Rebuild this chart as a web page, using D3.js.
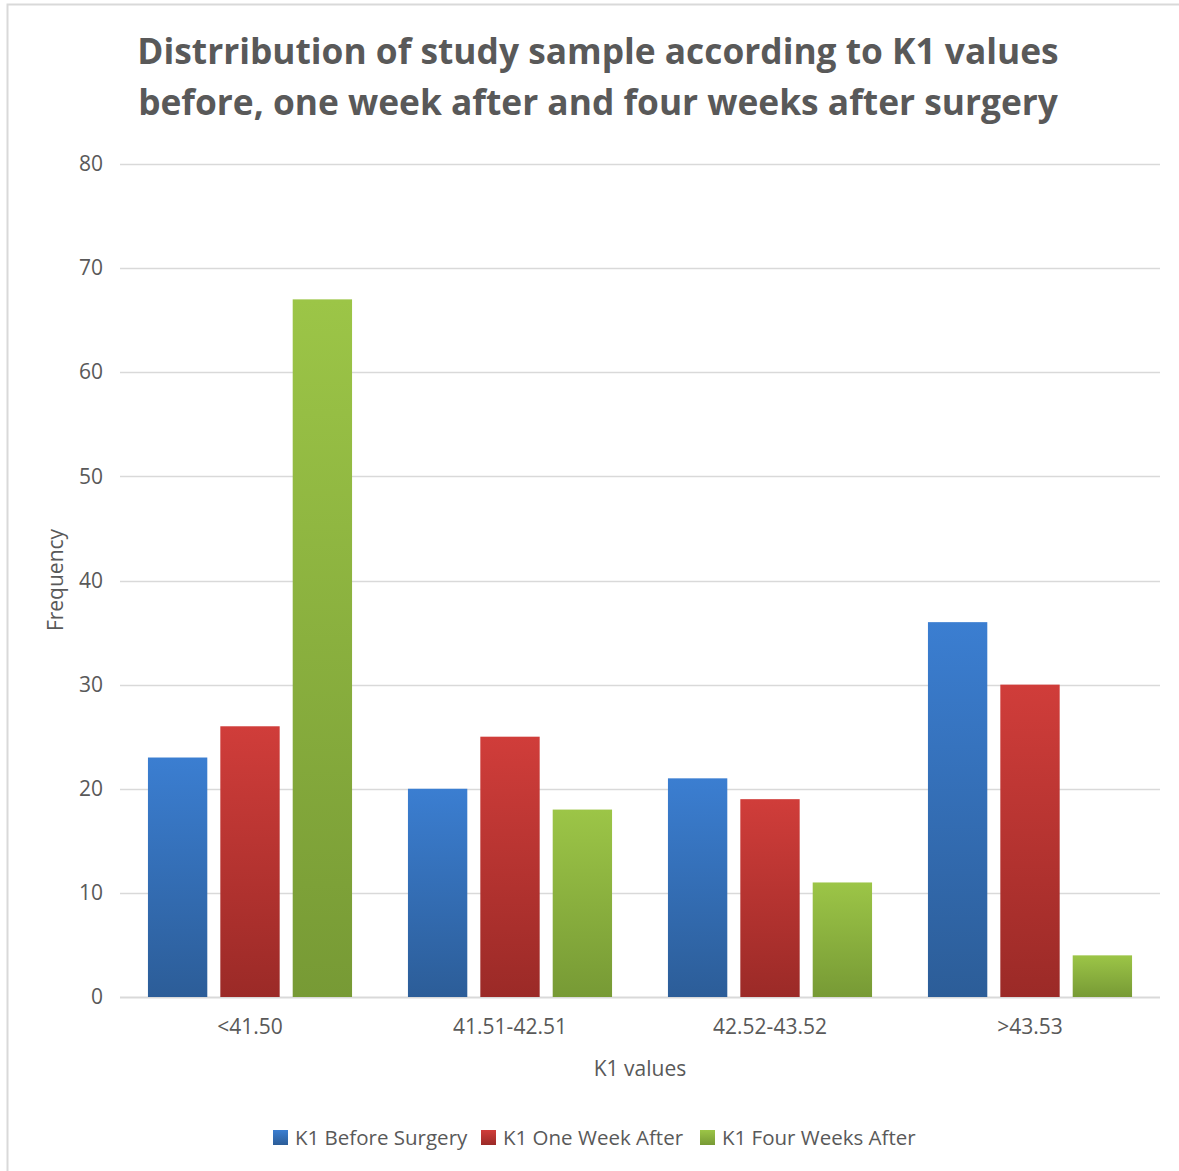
<!DOCTYPE html>
<html>
<head>
<meta charset="utf-8">
<script src="https://cdn.jsdelivr.net/npm/d3@7"></script>
<style>
  body { margin: 0; background: #fff; }
  text { font-family: "Open Sans", sans-serif; fill: #595959; }
</style>
</head>
<body>
<svg width="1179" height="1171"></svg>
<script>
const categories = ["<41.50", "41.51-42.51", "42.52-43.52", ">43.53"];
const seriesNames = ["K1 Before Surgery", "K1 One Week After", "K1 Four Weeks After"];
const beforeSurgery = [23, 20, 21, 36];
const oneWeekAfter = [26, 25, 19, 30];
const fourWeeksAfter = [67, 18, 11, 4];
const yTicks = [0, 10, 20, 30, 40, 50, 60, 70, 80];

const seriesValues = [beforeSurgery, oneWeekAfter, fourWeeksAfter];
const colors = [
    { top: "#3b7ed1", bottom: "#2c5d98" },
    { top: "#d03d3a", bottom: "#9b2a27" },
    { top: "#9cc547", bottom: "#779a35" }
];

const svg = d3.select("svg");
const margin = { top: 164, right: 19, bottom: 174, left: 120 };
const width = +svg.attr("width") - margin.left - margin.right;
const height = +svg.attr("height") - margin.top - margin.bottom;

// chart border (top and left only visible)
svg.append("path")
    .attr("d", "M7.5,1171 V4.5 H1179")
    .attr("fill", "none")
    .attr("stroke", "#d9d9d9")
    .attr("stroke-width", 2);

// gradients for bars
const defs = svg.append("defs");
colors.forEach(function (c, i) {
    const g = defs.append("linearGradient")
        .attr("id", "grad" + i)
        .attr("x1", 0).attr("y1", 0).attr("x2", 0).attr("y2", 1);
    g.append("stop").attr("offset", "0%").attr("stop-color", c.top);
    g.append("stop").attr("offset", "100%").attr("stop-color", c.bottom);
});

// title
svg.append("text")
    .attr("x", 598)
    .attr("text-anchor", "middle")
    .style("font-weight", "bold")
    .style("font-size", "35.3px")
    .style("fill", "#595959")
    .selectAll("tspan")
    .data(["Distrribution of study sample according to K1 values",
           "before, one week after and four weeks after surgery"])
    .enter().append("tspan")
    .attr("x", 598)
    .attr("y", function (d, i) { return 64 + i * 51; })
    .text(function (d) { return d; });

const chart = svg.append("g")
    .attr("transform", "translate(" + margin.left + "," + margin.top + ")");

const x0 = d3.scaleBand()
    .domain(categories)
    .range([0, width])
    .paddingInner(0.215)
    .paddingOuter(0.1075);

const x1 = d3.scaleBand()
    .domain(d3.range(seriesNames.length))
    .range([0, x0.bandwidth()])
    .padding(0.18)
    .paddingOuter(0);

const y = d3.scaleLinear()
    .domain([0, 80])
    .range([height, 0]);

// gridlines
chart.append("g")
    .selectAll("line")
    .data(yTicks)
    .enter().append("line")
    .attr("x1", 0)
    .attr("x2", width)
    .attr("y1", function (d) { return Math.round(y(d)) + 0.5; })
    .attr("y2", function (d) { return Math.round(y(d)) + 0.5; })
    .attr("stroke", "#d9d9d9")
    .attr("stroke-width", function (d) { return d === 0 ? 2 : 1.3; });

// y axis labels
const yAxis = chart.append("g")
    .attr("class", "y axis")
    .call(d3.axisLeft(y).tickValues(yTicks).tickSize(0).tickPadding(17));
yAxis.select(".domain").remove();
yAxis.selectAll("text")
    .style("font-size", "21px")
    .style("fill", "#595959");

// bars
const groups = chart.selectAll(".group")
    .data(categories)
    .enter().append("g")
    .attr("class", "group")
    .attr("transform", function (d) { return "translate(" + x0(d) + ",0)"; });

groups.selectAll("rect")
    .data(function (d, ci) {
        return seriesValues.map(function (vals, si) { return { s: si, v: vals[ci] }; });
    })
    .enter().append("rect")
    .attr("x", function (d) { return x1(d.s); })
    .attr("width", x1.bandwidth())
    .attr("y", function (d) { return y(d.v); })
    .attr("height", function (d) { return height - y(d.v); })
    .attr("fill", function (d) { return "url(#grad" + d.s + ")"; });

// x axis labels
const xAxis = chart.append("g")
    .attr("class", "x axis")
    .attr("transform", "translate(0," + height + ")")
    .call(d3.axisBottom(x0).tickSize(0).tickPadding(22));
xAxis.select(".domain").remove();
xAxis.selectAll("text")
    .style("font-size", "21px")
    .style("fill", "#595959");

// axis titles
svg.append("text")
    .attr("x", 640)
    .attr("y", 1076)
    .attr("text-anchor", "middle")
    .style("font-size", "21px")
    .text("K1 values");

svg.append("text")
    .attr("text-anchor", "middle")
    .attr("transform", "translate(63,580)rotate(-90)")
    .style("font-size", "21px")
    .text("Frequency");

// legend
const legendX = [273, 481, 700];
const legend = svg.append("g").attr("class", "legend");
seriesNames.forEach(function (name, i) {
    const item = legend.append("g")
        .attr("transform", "translate(" + legendX[i] + ",1130)");
    item.append("rect")
        .attr("width", 15)
        .attr("height", 15)
        .attr("fill", "url(#grad" + i + ")");
    item.append("text")
        .attr("x", 22)
        .attr("y", 15)
        .style("font-size", "20.5px")
        .text(name);
});
</script>
</body>
</html>
